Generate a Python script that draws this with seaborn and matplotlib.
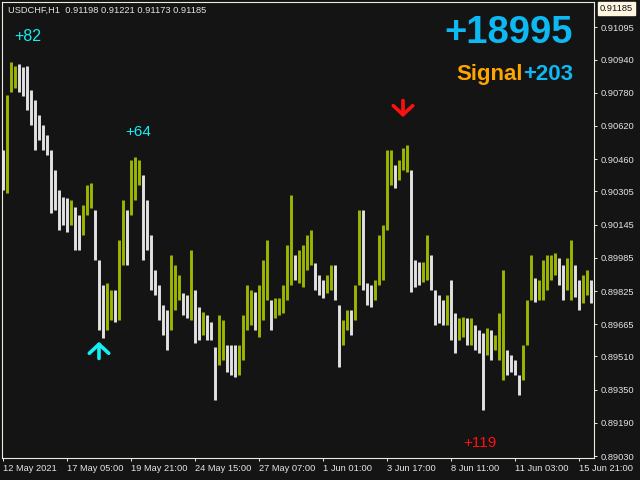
import numpy as np
import pandas as pd
import seaborn as sns
import matplotlib.pyplot as plt

SYMBOL = "USDCHF,H1"
LAST_OHLC = ["0.91198", "0.91221", "0.91173", "0.91185"]
LAST_PRICE = 0.91185

# bar highs / lows (one entry per ~4 hourly bars)
HIGHS = [
    0.90504, 0.90769, 0.90928, 0.90909, 0.90919, 0.90904, 0.90909, 0.90793,
    0.90745, 0.90673, 0.90625, 0.90577, 0.90504, 0.90408, 0.90312, 0.90278,
    0.90273, 0.90264, 0.90230, 0.90191, 0.90239, 0.90336, 0.90345, 0.90215,
    0.89975, 0.89854, 0.89864, 0.89830, 0.89830, 0.90071, 0.90264, 0.90215,
    0.90456, 0.90471, 0.90456, 0.90384, 0.90264, 0.90095, 0.89926, 0.89854,
    0.89758, 0.89734, 0.89999, 0.89950, 0.89902, 0.89816, 0.89806, 0.90023,
    0.89830, 0.89748, 0.89724, 0.89710, 0.89676, 0.89556, 0.89710, 0.89686,
    0.89565, 0.89565, 0.89565, 0.89565, 0.89710, 0.89854, 0.89830, 0.89820,
    0.89854, 0.89975, 0.90071, 0.89782, 0.89792, 0.89792, 0.89854, 0.90047,
    0.90288, 0.89999, 0.90023, 0.90047, 0.90095, 0.90119, 0.89960, 0.89902,
    0.89878, 0.89902, 0.89950, 0.89950, 0.89758, 0.89686, 0.89734, 0.89734,
    0.89854, 0.90215, 0.90215, 0.89864, 0.89854, 0.89878, 0.90095, 0.90143,
    0.90504, 0.90504, 0.90432, 0.90456, 0.90514, 0.90528, 0.90408, 0.89975,
    0.89965, 0.89965, 0.90095, 0.89999, 0.89830, 0.89806, 0.89782, 0.89806,
    0.89878, 0.89719, 0.89695, 0.89700, 0.89695, 0.89695, 0.89662, 0.89637,
    0.89623, 0.89647, 0.89637, 0.89613, 0.89719, 0.89927, 0.89541, 0.89517,
    0.89493, 0.89421, 0.89565, 0.89782, 0.89999, 0.89888, 0.89878, 0.89975,
    0.89999, 0.89999, 0.90008, 0.89984, 0.89950, 0.89984, 0.90071, 0.89950,
    0.89878, 0.89902, 0.89927, 0.89878,
]
LOWS = [
    0.90312, 0.90297, 0.90784, 0.90803, 0.90784, 0.90765, 0.90697, 0.90625,
    0.90504, 0.90553, 0.90504, 0.90480, 0.90201, 0.90215, 0.90119, 0.90143,
    0.90109, 0.90143, 0.90023, 0.90023, 0.90095, 0.90191, 0.90225, 0.89975,
    0.89637, 0.89599, 0.89637, 0.89686, 0.89676, 0.89686, 0.89950, 0.89950,
    0.90191, 0.90264, 0.90336, 0.89975, 0.90023, 0.89830, 0.89806, 0.89686,
    0.89613, 0.89541, 0.89637, 0.89734, 0.89782, 0.89710, 0.89695, 0.89686,
    0.89575, 0.89589, 0.89613, 0.89589, 0.89589, 0.89300, 0.89469, 0.89493,
    0.89435, 0.89421, 0.89411, 0.89421, 0.89493, 0.89637, 0.89662, 0.89637,
    0.89604, 0.89686, 0.89782, 0.89637, 0.89695, 0.89710, 0.89719, 0.89782,
    0.89854, 0.89878, 0.89864, 0.89845, 0.89927, 0.89950, 0.89830, 0.89806,
    0.89792, 0.89816, 0.89830, 0.89782, 0.89459, 0.89565, 0.89637, 0.89613,
    0.89686, 0.89854, 0.89830, 0.89758, 0.89748, 0.89782, 0.89854, 0.89878,
    0.90119, 0.90336, 0.90321, 0.90360, 0.90408, 0.90398, 0.89820, 0.89845,
    0.89854, 0.89869, 0.89878, 0.89830, 0.89662, 0.89671, 0.89662, 0.89662,
    0.89589, 0.89527, 0.89589, 0.89604, 0.89565, 0.89565, 0.89541, 0.89527,
    0.89252, 0.89517, 0.89493, 0.89541, 0.89493, 0.89396, 0.89421, 0.89435,
    0.89421, 0.89324, 0.89396, 0.89565, 0.89782, 0.89772, 0.89782, 0.89782,
    0.89830, 0.89878, 0.89902, 0.89854, 0.89782, 0.89830, 0.89782, 0.89796,
    0.89734, 0.89767, 0.89806, 0.89767,
]

DATE_LABELS = ["12 May 2021", "17 May 05:00", "19 May 21:00", "24 May 15:00",
               "27 May 07:00", "1 Jun 01:00", "3 Jun 17:00", "8 Jun 11:00",
               "11 Jun 03:00", "15 Jun 21:00"]
PRICE_TICKS = [0.91095, 0.90940, 0.90780, 0.90620, 0.90460, 0.90305, 0.90145,
               0.89985, 0.89825, 0.89665, 0.89510, 0.89350, 0.89190, 0.89030]

BUY_BAR, BUY_PRICE = 24, 0.89594
SELL_BAR, SELL_PRICE = 100, 0.90649
TOTAL = "+18995"
SIGNAL_PROFIT = "+203"
TRADE_RESULTS = ["+82", "+64", "+119"]

BG = "#141414"
FG = "#E4E4E4"
BORDER = "#EFEBDD"
UP = "#9DB500"
DOWN = "#E2E2E2"
CYAN = "#14EEF5"
SKY = "#0EB8F2"

sns.set_theme(style="dark", rc={"axes.facecolor": BG, "figure.facecolor": BG,
                                "axes.edgecolor": BORDER})
plt.rcParams["font.family"] = ["Liberation Sans", "DejaVu Sans"]

highs = np.array(HIGHS)
lows = np.array(LOWS)
bars = np.arange(len(highs))
mid = (highs + lows) / 2
up = np.r_[False, np.diff(mid) >= 0]

df = pd.DataFrame({
    "bar": np.repeat(bars, 2),
    "price": np.column_stack([lows, highs]).ravel(),
    "dir": np.repeat(np.where(up, "up", "down"), 2),
})

fig = plt.figure(figsize=(6.4, 4.8), dpi=100)
ax = fig.add_axes([2 / 640, 22 / 480, 592 / 640, 456 / 480])

sns.lineplot(data=df, x="bar", y="price", units="bar", estimator=None,
             hue="dir", palette={"up": UP, "down": DOWN}, linewidth=2.1,
             solid_capstyle="butt", legend=False, sort=False, ax=ax)

ax.set_xlim(-0.25, len(bars) - 0.25)
ax.set_ylim(0.89021, 0.91217)
ax.grid(False)
ax.set_xlabel("")
ax.set_ylabel("")
for s in ax.spines.values():
    s.set_color(BORDER)
    s.set_linewidth(0.8)

ax.set_xticks(np.arange(0, len(bars), 16))
ax.set_xticklabels(DATE_LABELS, ha="left")
ax.yaxis.tick_right()
ax.set_yticks(PRICE_TICKS)
ax.set_yticklabels([f"{v:.5f}" for v in PRICE_TICKS])
ax.tick_params(axis="x", direction="out", length=2.5, width=0.7, color=BORDER,
               labelcolor=FG, labelsize=6.7, pad=1.5, bottom=True)
ax.tick_params(axis="y", direction="out", length=2.5, width=0.7, color=BORDER,
               labelcolor=FG, labelsize=6.7, pad=2.5, right=True, left=False)

# header and current price tag
ax.text(0.010, 0.982, f"{SYMBOL}  " + " ".join(LAST_OHLC), transform=ax.transAxes,
        ha="left", va="center", fontsize=6.7, color=FG)
ax.annotate(f"{LAST_PRICE:.5f}", xy=(1.0, LAST_PRICE), xycoords=ax.get_yaxis_transform(),
            xytext=(4, 0), textcoords="offset points", ha="left", va="center",
            fontsize=6.7, color="#111111", annotation_clip=False,
            bbox=dict(boxstyle="square,pad=0.2", fc="#FFF6E2", ec="#FFF6E2"))

# signal arrows
ax.annotate("", xy=(BUY_BAR, BUY_PRICE), xytext=(0, -16), textcoords="offset points",
            arrowprops=dict(arrowstyle="->,head_width=0.7,head_length=0.65",
                            color=CYAN, lw=2.6, mutation_scale=10))
ax.annotate("", xy=(SELL_BAR, SELL_PRICE), xytext=(0, 16), textcoords="offset points",
            arrowprops=dict(arrowstyle="->,head_width=0.7,head_length=0.65",
                            color="#FF1010", lw=2.6, mutation_scale=10))

# trade results
ax.text(0.044, 0.925, TRADE_RESULTS[0], transform=ax.transAxes, ha="center",
        va="center", fontsize=11.5, color=CYAN)
ax.text(0.2297, 0.715, TRADE_RESULTS[1], transform=ax.transAxes, ha="center",
        va="center", fontsize=11, color=CYAN)
ax.text(0.807, 0.033, TRADE_RESULTS[2], transform=ax.transAxes, ha="center",
        va="center", fontsize=11, color="#FF1010")

# totals
ax.text(0.9645, 0.932, TOTAL, transform=ax.transAxes, ha="right", va="center",
        fontsize=27.5, fontweight="bold", color=SKY)
t203 = ax.text(0.9645, 0.842, SIGNAL_PROFIT, transform=ax.transAxes, ha="right",
               va="center", fontsize=16, fontweight="bold", color=SKY)
ax.annotate("Signal", xy=(0, 0.5), xycoords=t203, ha="right", va="center",
            fontsize=16, fontweight="bold", color="#FFA500")

fig.savefig("out.png", dpi=100, facecolor=BG)
